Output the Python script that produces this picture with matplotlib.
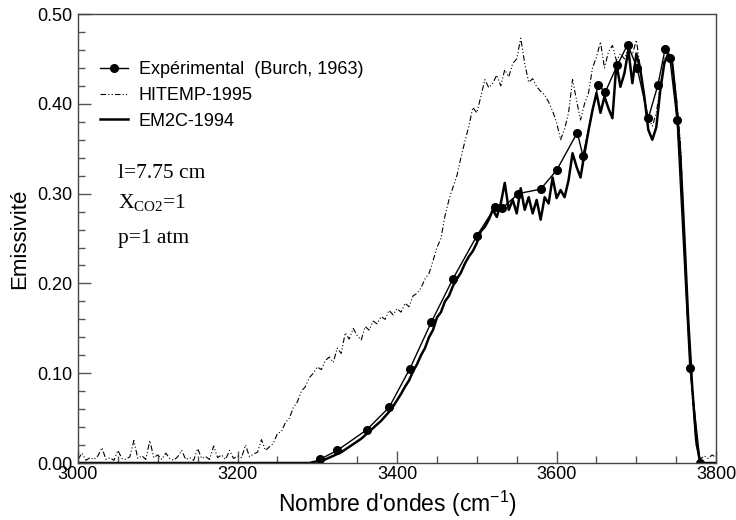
import numpy as np
import matplotlib
matplotlib.use("Agg")
import matplotlib.pyplot as plt
from matplotlib.ticker import MultipleLocator, FormatStrFormatter

plt.rcParams['font.family'] = ['Liberation Sans', 'DejaVu Sans']

# Experimental points (Burch, 1963)
exp_nu = [3303, 3325, 3362, 3390, 3416, 3443, 3470, 3500, 3523, 3532, 3552, 3580,
          3600, 3626, 3633, 3652, 3661, 3676, 3689, 3701, 3715, 3727, 3736, 3742,
          3751, 3767, 3780]
exp_eps = [0.004, 0.014, 0.037, 0.062, 0.105, 0.157, 0.205, 0.253, 0.285, 0.284, 0.300, 0.305,
           0.326, 0.368, 0.342, 0.421, 0.413, 0.443, 0.466, 0.440, 0.384, 0.421, 0.461, 0.451,
           0.382, 0.106, 0.000]

# HITEMP-1995, every 5 cm-1 from 3000 to 3800
hitemp_nu = np.arange(3000, 3805, 5)
hitemp_eps = [
    0.004, 0.011, 0.003, 0.006, 0.004, 0.008, 0.017, 0.004, 0.006, 0.003,   # 3000-3045
    0.014, 0.005, 0.004, 0.007, 0.025, 0.005, 0.008, 0.004, 0.025, 0.006,   # 3050-3095
    0.009, 0.004, 0.011, 0.005, 0.003, 0.007, 0.014, 0.004, 0.006, 0.003,   # 3100-3145
    0.016, 0.005, 0.007, 0.004, 0.019, 0.006, 0.009, 0.004, 0.014, 0.005,   # 3150-3195
    0.008, 0.006, 0.020, 0.007, 0.010, 0.012, 0.026, 0.014, 0.018, 0.022,   # 3200-3245
    0.033, 0.035, 0.045, 0.050, 0.062, 0.068, 0.080, 0.085, 0.095, 0.100,   # 3250-3295
    0.107, 0.104, 0.114, 0.118, 0.112, 0.128, 0.122, 0.145, 0.138, 0.150,   # 3300-3345
    0.142, 0.137, 0.152, 0.148, 0.158, 0.155, 0.163, 0.160, 0.170, 0.165,   # 3350-3395
    0.172, 0.168, 0.178, 0.174, 0.186, 0.189, 0.195, 0.205, 0.211, 0.225,   # 3400-3445
    0.240, 0.250, 0.275, 0.293, 0.307, 0.320, 0.340, 0.358, 0.375, 0.396,   # 3450-3495
    0.390, 0.408, 0.427, 0.418, 0.423, 0.432, 0.420, 0.438, 0.430, 0.445,   # 3500-3545
    0.450, 0.473, 0.445, 0.424, 0.428, 0.419, 0.414, 0.410, 0.402, 0.392,   # 3550-3595
    0.379, 0.360, 0.372, 0.390, 0.427, 0.404, 0.382, 0.400, 0.412, 0.440,   # 3600-3645
    0.452, 0.469, 0.440, 0.458, 0.465, 0.448, 0.456, 0.450, 0.462, 0.455,   # 3650-3695
    0.471, 0.440, 0.405, 0.385, 0.375, 0.390, 0.420, 0.450, 0.455, 0.445,   # 3700-3745
    0.410, 0.360, 0.260, 0.160, 0.075, 0.020, 0.004, 0.008, 0.005, 0.009,   # 3750-3795
    0.006,                                                                  # 3800
]

# EM2C-1994, zero below 3285 cm-1
em2c_nu = np.concatenate([[3000], np.arange(3285, 3805, 5)])
em2c_eps = [
    0.000,                                                                  # 3000
    0.000, 0.000, 0.001, 0.002, 0.003, 0.004, 0.006, 0.008, 0.010, 0.012,   # 3285-3330
    0.015, 0.018, 0.021, 0.024, 0.027, 0.031, 0.035, 0.039, 0.043, 0.047,   # 3335-3380
    0.052, 0.057, 0.063, 0.070, 0.077, 0.085, 0.092, 0.102, 0.110, 0.120,   # 3385-3430
    0.128, 0.140, 0.148, 0.162, 0.168, 0.180, 0.186, 0.197, 0.205, 0.212,   # 3435-3480
    0.222, 0.230, 0.236, 0.245, 0.258, 0.263, 0.271, 0.282, 0.274, 0.289,   # 3485-3530
    0.312, 0.282, 0.293, 0.278, 0.306, 0.282, 0.296, 0.278, 0.293, 0.271,   # 3535-3580
    0.296, 0.289, 0.318, 0.295, 0.304, 0.296, 0.315, 0.345, 0.330, 0.318,   # 3585-3630
    0.345, 0.370, 0.393, 0.412, 0.390, 0.408, 0.395, 0.384, 0.445, 0.419,   # 3635-3680
    0.434, 0.460, 0.423, 0.456, 0.438, 0.408, 0.371, 0.360, 0.374, 0.415,   # 3685-3730
    0.445, 0.456, 0.445, 0.401, 0.345, 0.255, 0.160, 0.085, 0.025, 0.000,   # 3735-3780
    0.000, 0.000, 0.000, 0.000,                                             # 3785-3800
]

fig = plt.figure(figsize=(7.36, 5.2), dpi=100)
ax = fig.add_axes([0.106, 0.1096, 0.867, 0.8634])

ax.plot(exp_nu, exp_eps, color='black', lw=1.0, marker='o', ms=5.5,
        label='Expérimental  (Burch, 1963)')
ax.plot(hitemp_nu, hitemp_eps, color='black', lw=0.8, dashes=(5, 2, 1, 2, 1, 2),
        label='HITEMP-1995')
ax.plot(em2c_nu, em2c_eps, color='black', lw=1.8, label='EM2C-1994')

ax.set_xlim(3000, 3800)
ax.set_ylim(0, 0.5)
ax.xaxis.set_major_locator(MultipleLocator(200))
ax.xaxis.set_minor_locator(MultipleLocator(50))
ax.yaxis.set_major_locator(MultipleLocator(0.1))
ax.yaxis.set_minor_locator(MultipleLocator(0.02))
ax.yaxis.set_major_formatter(FormatStrFormatter('%.2f'))
ax.tick_params(which='both', direction='in', labelsize=13, color='#555555')
ax.tick_params(which='major', length=9, width=1)
ax.tick_params(which='minor', length=5, width=1)
ax.tick_params(axis='x', pad=2)
ax.tick_params(axis='y', pad=4)
for s in ax.spines.values():
    s.set_color('#444444')
    s.set_linewidth(1.0)

ax.set_xlabel("Nombre d'ondes (cm$^{\\mathregular{-1}}$)", fontsize=16.5, labelpad=4)
ax.set_ylabel('Emissivité', fontsize=16, labelpad=5)

ax.legend(loc='upper left', bbox_to_anchor=(0.034, 0.895), frameon=False,
          fontsize=13, borderpad=0, borderaxespad=0, handlelength=1.55,
          handletextpad=0.6, labelspacing=0.48)

tfont = dict(family=['Liberation Serif', 'DejaVu Serif'], fontsize=15.5, transform=ax.transAxes)
ax.text(0.063, 0.635, 'l=7.75 cm', **tfont)
ax.text(0.063, 0.566, 'X$_{\\mathregular{CO2}}$=1', **tfont)
ax.text(0.063, 0.490, 'p=1 atm', **tfont)

fig.savefig('out.png', dpi=100)
